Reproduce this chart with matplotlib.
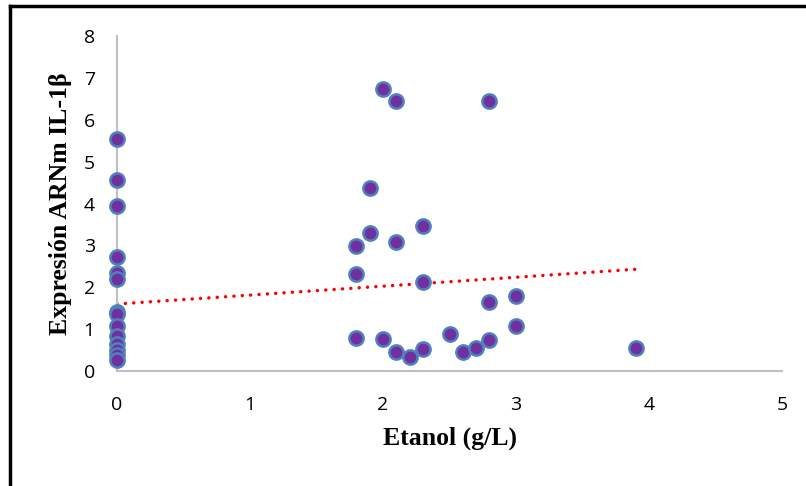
import numpy as np
import matplotlib.pyplot as plt
from matplotlib.lines import Line2D

# Etanol (g/L) vs expresion ARNm IL-1b
etanol = [0, 0, 0, 0, 0, 0, 0, 0, 0, 0, 0, 0, 0, 0,
          2.0, 2.1, 2.8, 1.9, 1.9, 1.8, 2.1, 2.3, 1.8, 2.3,
          2.8, 3.0, 3.0, 1.8, 2.0, 2.1, 2.2, 2.3, 2.5, 2.6,
          2.7, 2.8, 3.9]
il1b = [5.55, 4.57, 3.95, 2.72, 2.35, 2.2, 1.42, 1.35, 1.08, 0.84, 0.65, 0.5, 0.38, 0.27,
        6.73, 6.44, 6.44, 4.38, 3.29, 2.99, 3.09, 3.47, 2.31, 2.13,
        1.64, 1.79, 1.08, 0.78, 0.76, 0.46, 0.33, 0.52, 0.88, 0.46,
        0.54, 0.74, 0.56]

# linea de tendencia (extremos)
tend_x = [0, 3.9]
tend_y = [1.6, 2.43]

fig = plt.figure(figsize=(8.06, 4.86), dpi=100)
ax = fig.add_axes([0.1452, 0.2366, 0.8251, 0.6893])

ax.scatter(etanol, il1b, s=105, color='#7030A0', edgecolors='#4F81BD', linewidths=1.8, zorder=3, clip_on=False)
ax.plot(tend_x, tend_y, color='#FF0000', linestyle=(0, (0.01, 2.4)), linewidth=2.5,
        dash_capstyle='round', zorder=2)

ax.set_xlim(0, 5)
ax.set_ylim(0, 8)
ax.set_xticks(range(0, 6))
ax.set_yticks(range(0, 9))
for s in ['top', 'right']:
    ax.spines[s].set_visible(False)
for s in ['left', 'bottom']:
    ax.spines[s].set_color('#BFBFBF')
    ax.spines[s].set_linewidth(1.5)
ax.tick_params(length=0, labelsize=14)
ax.tick_params(axis='y', pad=16)
ax.tick_params(axis='x', pad=18)
for lab in ax.get_xticklabels() + ax.get_yticklabels():
    lab.set_family('Open Sans')

ax.set_xlabel('Etanol (g/L)', family='Liberation Serif', fontweight='bold', fontsize=18.5, labelpad=9)
ax.set_ylabel('Expresión ARNm IL-1β', family='Liberation Serif', fontweight='bold', fontsize=18.5, labelpad=8)

# marco de la figura (solo izquierda y arriba visibles)
fig.add_artist(Line2D([0.0118, 0.0118], [0, 0.988], transform=fig.transFigure, color='black', linewidth=2.5))
fig.add_artist(Line2D([0.0118, 1.0], [0.988, 0.988], transform=fig.transFigure, color='black', linewidth=2.5))

plt.savefig('out.png', dpi=100)
